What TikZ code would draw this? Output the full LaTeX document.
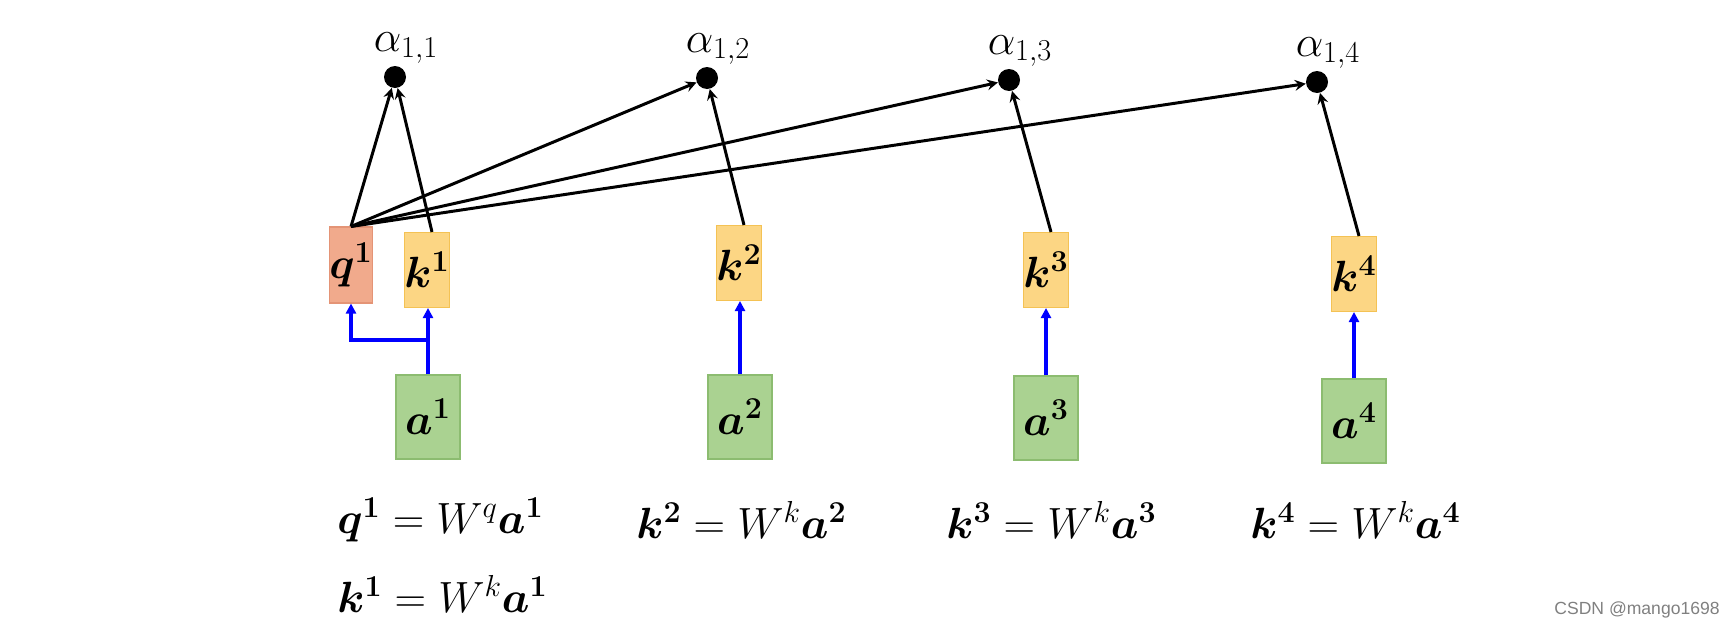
\documentclass[tikz,border=0pt]{standalone}
\usepackage{bm}
\usepackage{amsmath}
\usepackage{fontspec}
\usepackage{tikz}
\usetikzlibrary{arrows.meta}
\newfontfamily\wmfont{Liberation Sans}
\definecolor{qfill}{RGB}{241,170,140}
\definecolor{qline}{RGB}{228,148,118}
\definecolor{kfill}{RGB}{252,214,132}
\definecolor{kline}{RGB}{244,194,84}
\definecolor{afill}{RGB}{170,210,145}
\definecolor{aline}{RGB}{140,188,112}

\begin{document}
\begin{tikzpicture}[x=0.02cm,y=-0.02cm,
    qbox/.style={draw=qline,fill=qfill,line width=0.6pt,minimum width=0.82cm,minimum height=1.52cm,inner sep=0pt,font=\fontsize{25}{30}\selectfont},
    kbox/.style={qbox,draw=kline,fill=kfill,minimum width=0.8cm,minimum height=1.5cm},
    abox/.style={qbox,draw=aline,fill=afill,minimum width=1.28cm,minimum height=1.68cm},
    dot/.style={circle,fill=black,minimum size=0.44cm,inner sep=0pt},
    karrow/.style={line width=1.7pt,-stealth},
    bluearrow/.style={line width=2pt,blue,-{Triangle[length=0.2cm,width=0.2cm]}},
    eq/.style={anchor=west,inner sep=0pt,font=\fontsize{26}{30}\selectfont}]
    \useasboundingbox (0,0) rectangle (1734,626);
    \node[qbox] (q1) at (351,265) {$\bm{q}^{\bm{1}}$};
    \foreach \i/\kx/\ky/\ax/\ay/\dx/\dy in {1/427/270/428/417/395/77, 2/739/263/740/417/707/78, 3/1046/270/1046/418/1009/80, 4/1354/274/1354/421/1317/82} {%
        \node[kbox] (k\i) at (\kx,\ky) {$\bm{k}^{\bm{\i}}$};
        \node[abox] (a\i) at (\ax,\ay) {$\bm{a}^{\bm{\i}}$};
        \node[dot,label={[xshift=0.22cm,inner sep=1pt,font=\fontsize{23}{27}\selectfont]above:$\alpha_{1,\i}$}] (al\i) at (\dx,\dy) {};
        \draw[karrow] ([xshift=0.1cm]k\i.north) -- (al\i);
        \draw[karrow] (q1.north) -- (al\i);
        \draw[bluearrow] (a\i.north) -- (a\i.north |- k\i.south);
    }
    \coordinate (split) at (428,340);
    \draw[bluearrow] (split) -| (q1.south);
    % equations
    \node[eq] (eq1) at (337,520) {$\bm{q}^{\bm{1}} = W^q\bm{a}^{\bm{1}}$};
    \node[eq] (eq2) at (337,594) {$\bm{k}^{\bm{1}} = W^k\bm{a}^{\bm{1}}$};
    \node[eq] (eq3) at (636,520) {$\bm{k}^{\bm{2}} = W^k\bm{a}^{\bm{2}}$};
    \node[eq] (eq4) at (946,520) {$\bm{k}^{\bm{3}} = W^k\bm{a}^{\bm{3}}$};
    \node[eq] (eq5) at (1250,520) {$\bm{k}^{\bm{4}} = W^k\bm{a}^{\bm{4}}$};
    \node[anchor=east,inner sep=0pt,text=gray,font=\wmfont\fontsize{10}{12}\selectfont] (wm) at (1720,610) {CSDN @mango1698};
\end{tikzpicture}
\end{document}
